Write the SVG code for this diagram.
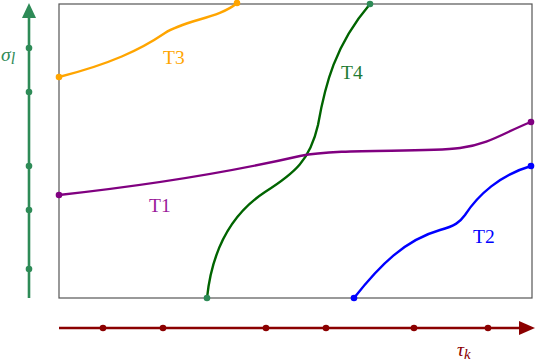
<svg xmlns="http://www.w3.org/2000/svg" width="536" height="362" viewBox="0 0 536 362">
<style>
.lbl{font-family:"Liberation Serif","DejaVu Serif",serif;font-size:19.5px}
.curve{fill:none;stroke-width:2.4}
</style>
<rect width="536" height="362" fill="#fff"/>
<g id="frame"><rect x="59" y="4" width="473" height="294" fill="none" stroke="#555" stroke-width="1.2"/></g>
<g id="axes">
<line x1="29" y1="298" x2="29" y2="16" stroke="#2e8b57" stroke-width="2.6"/>
<polygon points="29,3 22,18 36,18" fill="#2e8b57"/>
<g fill="#2e8b57"><circle cx="29" cy="48" r="3.3"/><circle cx="29" cy="92" r="3.3"/><circle cx="29" cy="166" r="3.3"/><circle cx="29" cy="210" r="3.3"/><circle cx="29" cy="269" r="3.3"/></g>
<text x="1" y="61" class="lbl" font-size="24" font-style="italic" fill="#2e8b57">σ<tspan font-size="16" dy="3">l</tspan></text>
<line x1="59" y1="328" x2="520" y2="328" stroke="#8b0000" stroke-width="2.6"/>
<polygon points="535,328 519,321 519,335" fill="#8b0000"/>
<g fill="#8b0000"><circle cx="103" cy="328" r="3.3"/><circle cx="163" cy="328" r="3.3"/><circle cx="266" cy="328" r="3.3"/><circle cx="326" cy="328" r="3.3"/><circle cx="414" cy="328" r="3.3"/><circle cx="488" cy="328" r="3.3"/></g>
<text x="457" y="356" class="lbl" font-size="22" font-style="italic" fill="#8b0000">τ<tspan font-size="15" dy="3">k</tspan></text>
</g>
<g id="connectors">
<g id="T3"><path class="curve" stroke="#ffa500" d="M59,77 C110,64 140,50 165,33 C185,20 220,18 237,3"/><circle cx="59" cy="77" r="3.3" fill="#ffa500"/><circle cx="237" cy="3" r="3.3" fill="#ffa500"/><text x="163" y="64" class="lbl" fill="#ffa500">T3</text></g>
<g id="T4"><path class="curve" stroke="#006400" d="M207,298 C212,250 230,215 265,192 C295,173 310,160 318,125 C325,85 335,45 370,4"/><circle cx="207" cy="298" r="3.3" fill="#2e8b57"/><circle cx="370" cy="4" r="3.3" fill="#2e8b57"/><text x="341" y="79" class="lbl" fill="#1e7b32">T4</text></g>
<g id="T1"><path class="curve" stroke="#800080" d="M59,195 C150,185 230,172 300,156 C340,148 420,153 460,148 C490,144 505,132 531,122"/><circle cx="59" cy="195" r="3.3" fill="#800080"/><circle cx="531" cy="122" r="3.3" fill="#800080"/><text x="149" y="212" class="lbl" fill="#9a1a9a">T1</text></g>
<g id="T2"><path class="curve" stroke="#0000ff" d="M354,298 C380,265 405,240 440,230 C455,226 460,222 465,215 C478,195 500,175 531,166"/><circle cx="354" cy="298" r="3.3" fill="#0000ff"/><circle cx="531" cy="166" r="3.3" fill="#0000ff"/><text x="473" y="243" class="lbl" fill="#0000ff">T2</text></g>
</g>
</svg>
